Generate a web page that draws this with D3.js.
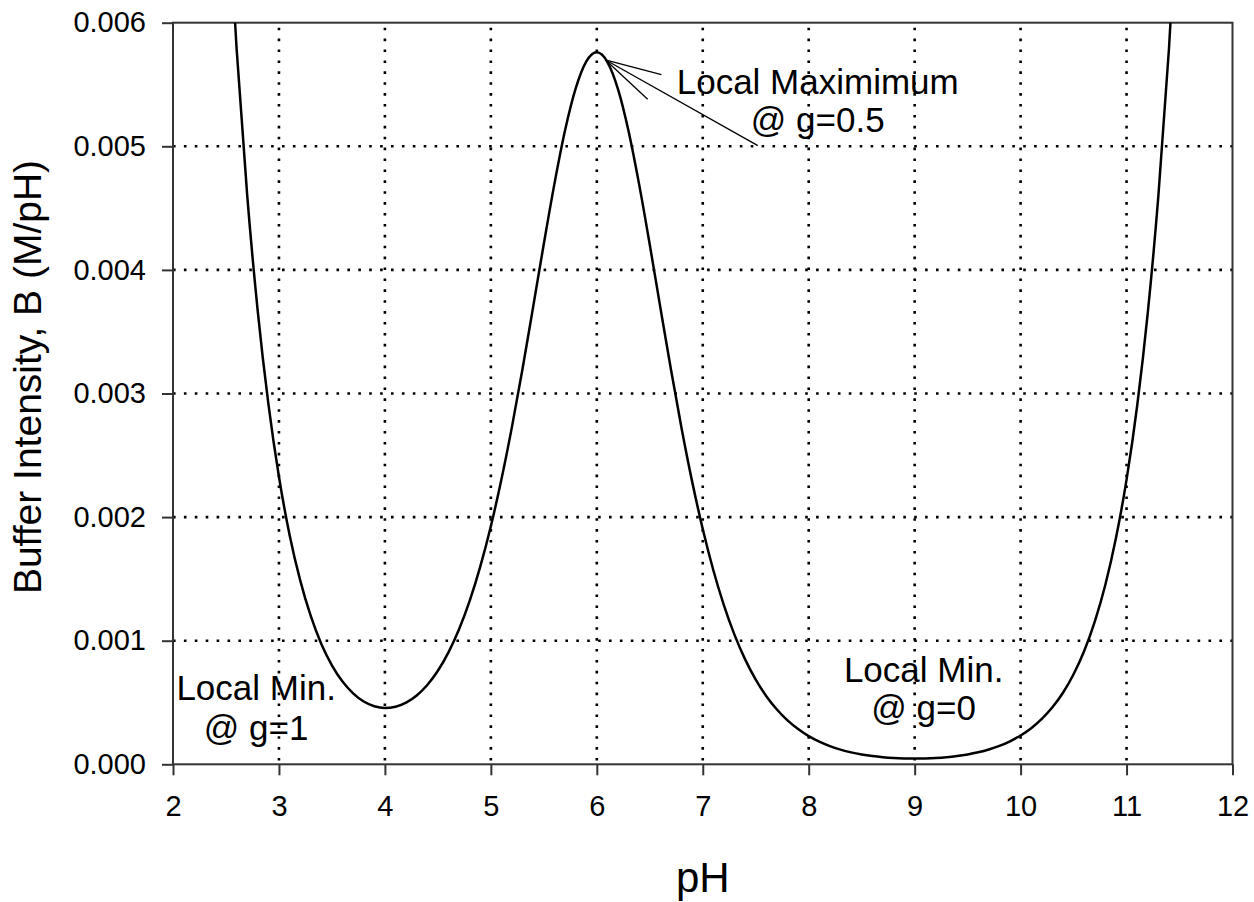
<!DOCTYPE html>
<html>
<head>
<meta charset="utf-8">
<script src="https://cdn.jsdelivr.net/npm/d3@7/dist/d3.min.js"></script>
<style>
  body { margin: 0; background: #fff; }
  text { font-family: "Liberation Sans", Arial, sans-serif; fill: #000; }
</style>
</head>
<body>
<div id="chart-area"></div>
<script>
// buffer intensity curve
var phValues = [2.5, 2.6, 2.7, 2.8, 2.9, 3.0, 3.1, 3.2, 3.3, 3.4, 3.5, 3.6, 3.7, 3.8, 3.9,
  4.0, 4.1, 4.2, 4.3, 4.4, 4.5, 4.6, 4.7, 4.8, 4.9, 5.0, 5.1, 5.2, 5.3, 5.4, 5.5, 5.6, 5.7,
  5.8, 5.9, 6.0, 6.1, 6.2, 6.3, 6.4, 6.5, 6.6, 6.7, 6.8, 6.9, 7.0, 7.1, 7.2, 7.3, 7.4, 7.5,
  7.6, 7.7, 7.8, 7.9, 8.0, 8.1, 8.2, 8.3, 8.4, 8.5, 8.6, 8.7, 8.8, 8.9, 9.0, 9.1, 9.2, 9.3,
  9.4, 9.5, 9.6, 9.7, 9.8, 9.9, 10.0, 10.1, 10.2, 10.3, 10.4, 10.5, 10.6, 10.7, 10.8, 10.9,
  11.0, 11.1, 11.2, 11.3, 11.4, 11.5];
var bufferValues = [0.00729, 0.005794, 0.004607, 0.003665, 0.002918, 0.002326, 0.001858, 0.001490,
  0.001200, 0.000974, 0.000801, 0.000669, 0.000574, 0.000508, 0.000470,
  0.000456, 0.000466, 0.000499, 0.000557, 0.000642, 0.000757, 0.000906, 0.001093, 0.001322,
  0.001599, 0.001926, 0.002306, 0.002734, 0.003205, 0.003705, 0.004211, 0.004696, 0.005127,
  0.005466, 0.005685, 0.005760, 0.005682, 0.005463, 0.005122, 0.004690, 0.004204, 0.003695,
  0.003194, 0.002719, 0.002287, 0.001904, 0.001570, 0.001286, 0.001047, 0.000849, 0.000685,
  0.000551, 0.000443, 0.000355, 0.000285, 0.000228, 0.000183, 0.000147, 0.000119, 0.0000967,
  0.0000797, 0.0000667, 0.0000573, 0.0000509, 0.0000472, 0.0000460, 0.0000473, 0.0000510,
  0.0000575, 0.0000671, 0.0000801, 0.0000975, 0.000120, 0.000149, 0.000186, 0.000233,
  0.000292, 0.000367, 0.000461, 0.000579, 0.000729, 0.000917, 0.001155, 0.001453, 0.001830,
  0.002303, 0.002899, 0.003650, 0.004595, 0.005785, 0.007283];

var xTicks = [2, 3, 4, 5, 6, 7, 8, 9, 10, 11, 12];
var yTicks = [0, 0.001, 0.002, 0.003, 0.004, 0.005, 0.006];

var margin = {left: 173, right: 21.5, top: 22.7, bottom: 137.7};
var width = 1254 - margin.left - margin.right;
var height = 902 - margin.top - margin.bottom;

var svg = d3.select("#chart-area")
  .append("svg")
  .attr("width", 1254)
  .attr("height", 902);

var g = svg.append("g")
  .attr("transform", "translate(" + margin.left + ", " + margin.top + ")");

var x = d3.scaleLinear().domain([2, 12]).range([0, width]);
var y = d3.scaleLinear().domain([0, 0.006]).range([height, 0]);

g.append("clipPath").attr("id", "plot-clip")
  .append("rect").attr("width", width).attr("height", height);

// dotted grid
g.selectAll(".vgrid").data(xTicks.slice(1, -1)).enter().append("line")
  .attr("class", "vgrid")
  .attr("x1", d => x(d)).attr("x2", d => x(d))
  .attr("y1", 5).attr("y2", height)
  .attr("stroke", "#000").attr("stroke-width", 2.6)
  .attr("stroke-dasharray", "2.6,8.3");

g.selectAll(".hgrid").data(yTicks.slice(1, -1)).enter().append("line")
  .attr("class", "hgrid")
  .attr("x1", 0).attr("x2", width)
  .attr("y1", d => y(d)).attr("y2", d => y(d))
  .attr("stroke", "#000").attr("stroke-width", 2.6)
  .attr("stroke-dasharray", "2.6,8.3");

// axes
var xAxisCall = d3.axisBottom(x).tickValues(xTicks).tickSize(11).tickPadding(20)
  .tickFormat(d3.format("d"));
var xAxis = g.append("g")
  .attr("class", "x axis")
  .attr("transform", "translate(0, " + height + ")")
  .call(xAxisCall);

var yAxisCall = d3.axisLeft(y).tickValues(yTicks).tickSize(11).tickPadding(16)
  .tickFormat(d3.format(".3f"));
var yAxis = g.append("g")
  .attr("class", "y axis")
  .call(yAxisCall);

[xAxis, yAxis].forEach(a => {
  a.select(".domain").remove();
  a.selectAll("line").attr("stroke", "#333").attr("stroke-width", 2);
  a.selectAll("text").attr("font-size", "29px").attr("font-family", "Liberation Sans, Arial, sans-serif");
});

// frame
g.append("rect")
  .attr("width", width).attr("height", height)
  .attr("fill", "none").attr("stroke", "#333").attr("stroke-width", 2);

// curve
var line = d3.line()
  .x((d, i) => x(phValues[i]))
  .y(d => y(d))
  .curve(d3.curveMonotoneX);

g.append("path")
  .datum(bufferValues)
  .attr("clip-path", "url(#plot-clip)")
  .attr("fill", "none")
  .attr("stroke", "#000")
  .attr("stroke-width", 2.5)
  .attr("d", line);

// annotations
var leaderFrom = [6.08, 0.0057];
var leaderTo = [[6.61, 0.00558], [6.48, 0.00538], [7.52, 0.005005]];
g.selectAll(".leader").data(leaderTo).enter().append("line")
  .attr("class", "leader")
  .attr("x1", x(leaderFrom[0])).attr("y1", y(leaderFrom[1]))
  .attr("x2", d => x(d[0])).attr("y2", d => y(d[1]))
  .attr("stroke", "#000").attr("stroke-width", 1.3);

function note(px, py, lines, gap) {
  var t = g.append("text")
    .attr("x", x(px)).attr("y", y(py))
    .attr("text-anchor", "middle")
    .attr("font-size", "35px");
  lines.forEach((s, i) => {
    t.append("tspan").attr("x", x(px)).attr("dy", i == 0 ? 0 : gap).text(s);
  });
}
note(8.085, 0.005423, ["Local Maximimum", "@ g=0.5"], 38);
note(2.785, 0.000524, ["Local Min.", "@ g=1"], 40);
note(9.085, 0.000668, ["Local Min.", "@ g=0"], 38);

// axis titles
svg.append("text")
  .attr("x", margin.left + width / 2)
  .attr("y", 892)
  .attr("font-size", "42px")
  .attr("text-anchor", "middle")
  .text("pH");

svg.append("text")
  .attr("x", -377)
  .attr("y", 41)
  .attr("font-size", "39px")
  .attr("text-anchor", "middle")
  .attr("transform", "rotate(-90)")
  .text("Buffer Intensity, B (M/pH)");
</script>
</body>
</html>
